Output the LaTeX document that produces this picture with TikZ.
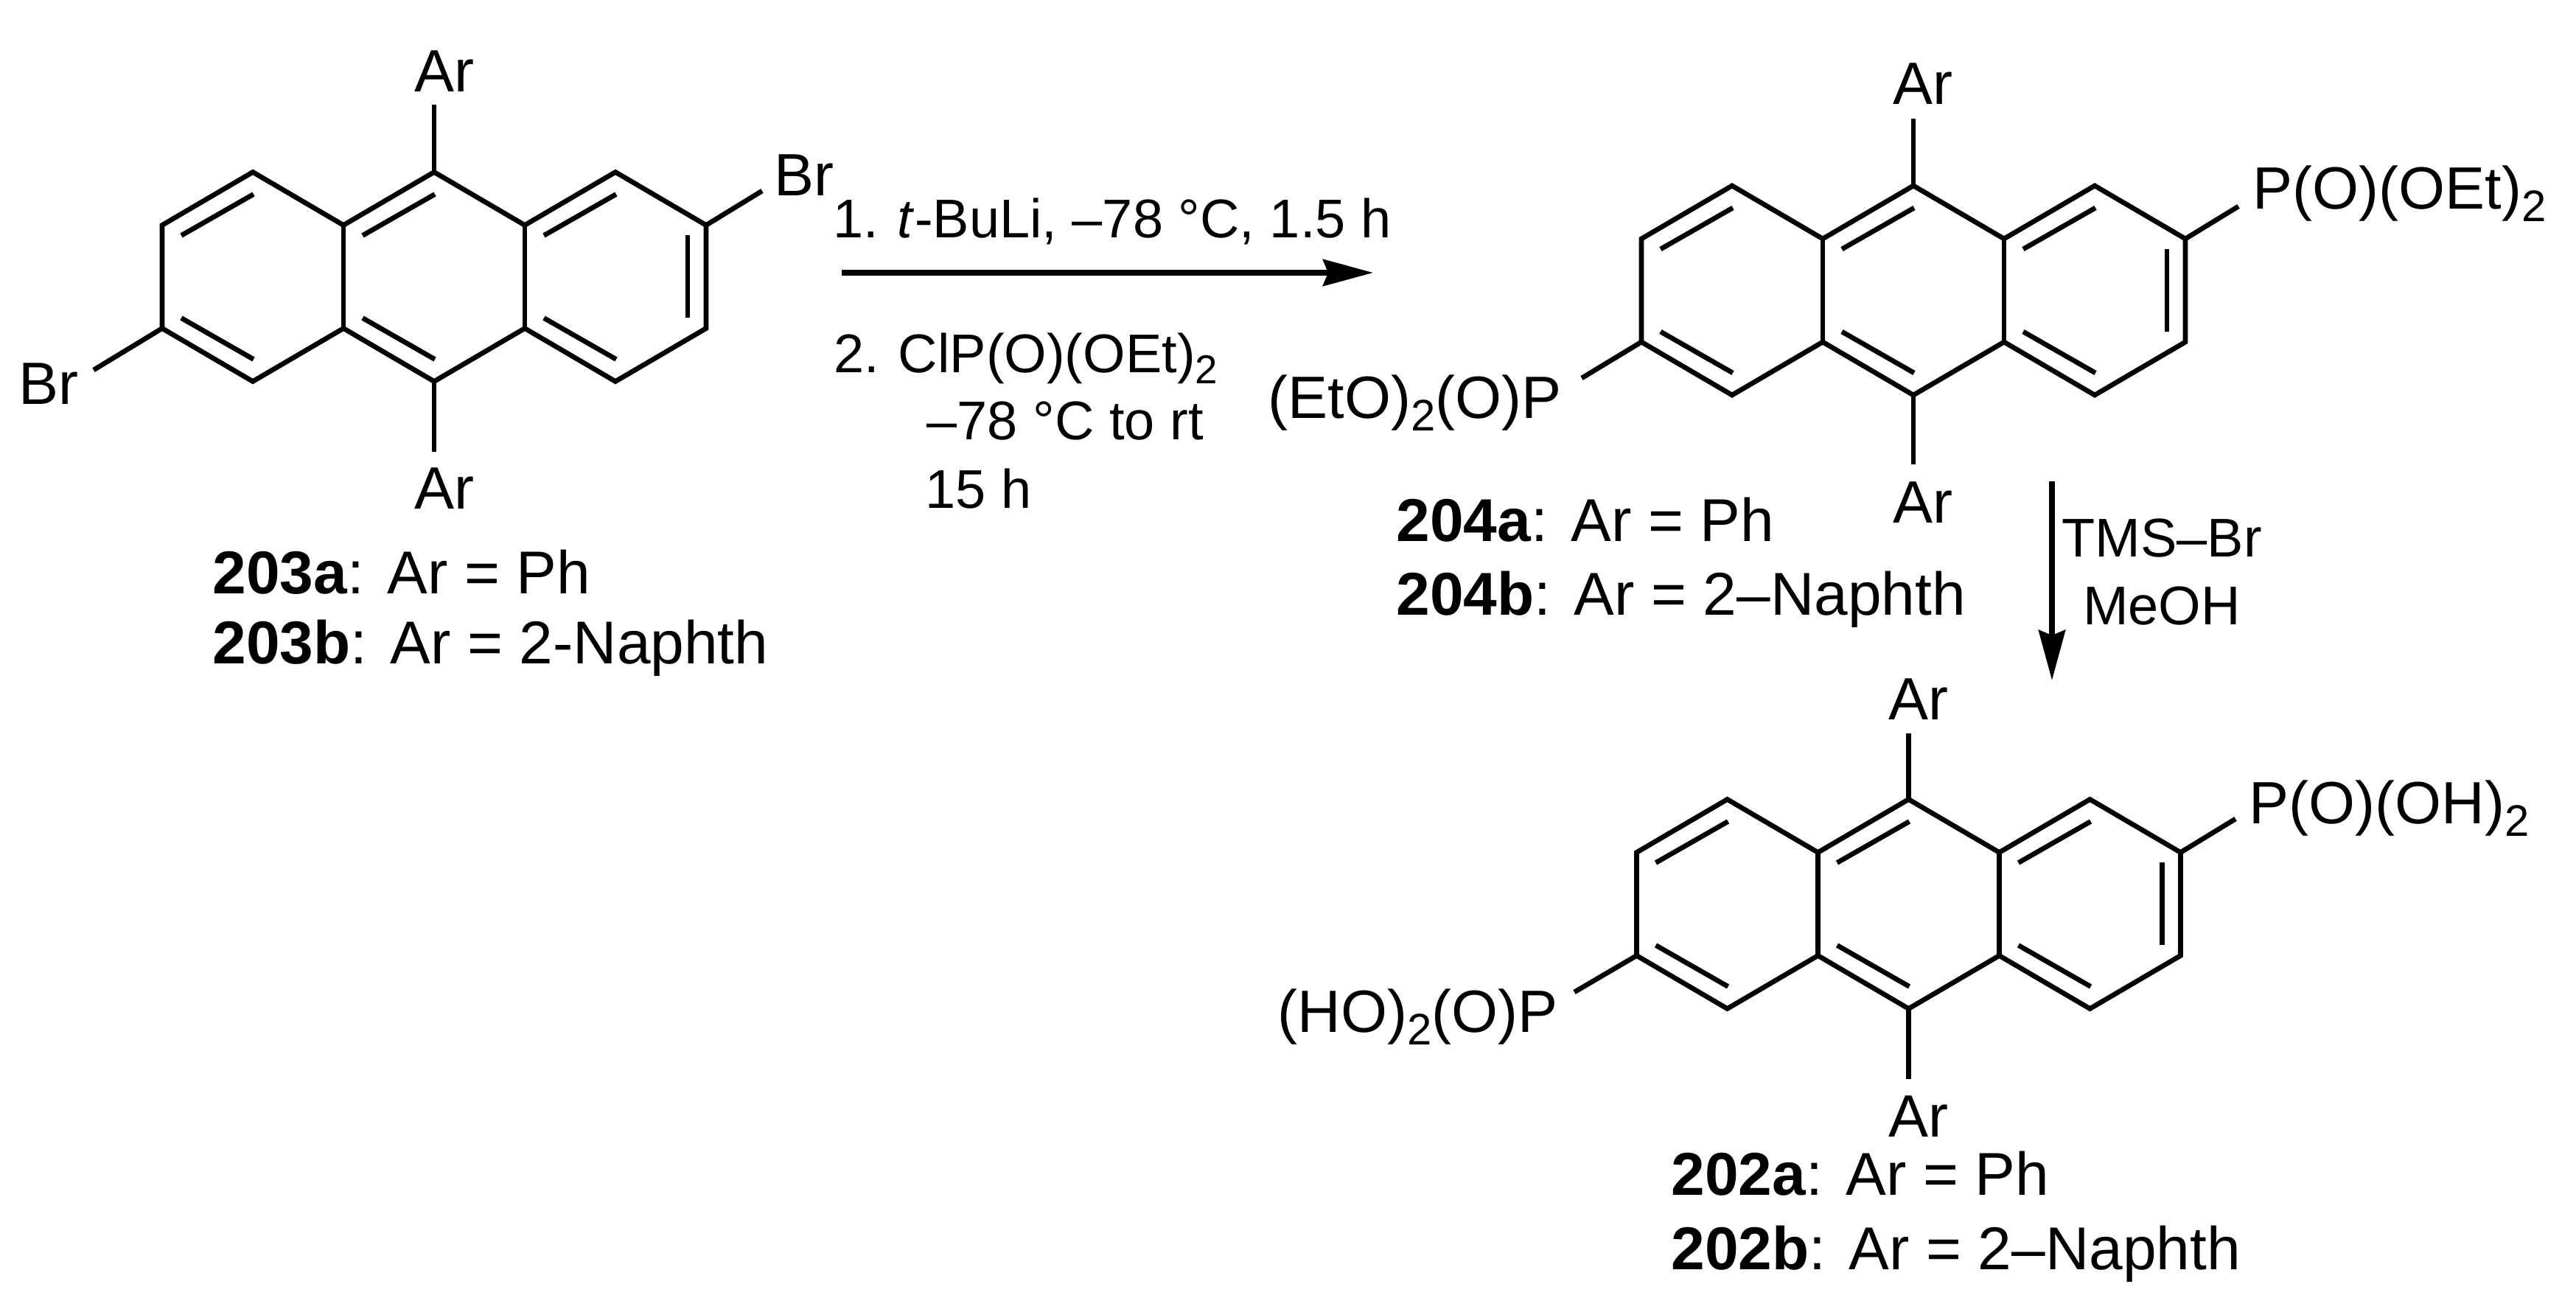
\documentclass[tikz,border=0pt]{standalone}
\usepackage{fontspec}
\setmainfont{Liberation Sans}
\frenchspacing
\usetikzlibrary{arrows.meta}
\newcommand{\subtwo}{\raisebox{-.2em}{\scalebox{.74}{2}}}
\newcommand{\cmpd}[1]{\textbf{#1}:\kern.08cm\ }
\tikzset{
  bond/.style={line width=1.9pt, line join=miter},
  atomlbl/.style={font=\fontsize{23.05}{26}\selectfont, inner sep=0pt, anchor=base west},
  condlbl/.style={font=\fontsize{21.05}{24}\selectfont, inner sep=0pt, anchor=base west},
  cmpdlbl/.style={font=\fontsize{23.35}{26}\selectfont, inner sep=0pt, anchor=base west},
  rxnarrow/.style={line width=2.1pt, -{Stealth[length=.68cm,width=.36cm,inset=.07cm]}}
}
\begin{document}
\begin{tikzpicture}
\useasboundingbox (0,0) rectangle (34.95,17.61);

\foreach \m/\cx/\cy in {A/5.89/13.855, B/25.96/13.67, C/25.895/5.345} {
  \begin{scope}[shift={(\cx,\cy)}]
    \coordinate (\m-t1) at (-2.46,1.42);
    \coordinate (\m-t2) at (0,1.42);
    \coordinate (\m-t3) at (2.46,1.42);
    \coordinate (\m-u1) at (-3.69,.7);
    \coordinate (\m-u2) at (-1.23,.7);
    \coordinate (\m-u3) at (1.23,.7);
    \coordinate (\m-u4) at (3.69,.7);
    \coordinate (\m-l1) at (-3.69,-.7);
    \coordinate (\m-l2) at (-1.23,-.7);
    \coordinate (\m-l3) at (1.23,-.7);
    \coordinate (\m-l4) at (3.69,-.7);
    \coordinate (\m-b1) at (-2.46,-1.42);
    \coordinate (\m-b2) at (0,-1.42);
    \coordinate (\m-b3) at (2.46,-1.42);

    \draw[bond] (\m-u1) -- (\m-t1) -- (\m-u2) -- (\m-t2) -- (\m-u3) -- (\m-t3) -- (\m-u4) -- (\m-l4)
      -- (\m-b3) -- (\m-l3) -- (\m-b2) -- (\m-l2) -- (\m-b1) -- (\m-l1) -- cycle;
    \draw[bond] (\m-u2) -- (\m-l2);
    \draw[bond] (\m-u3) -- (\m-l3);

    \draw[bond] (-3.43,.56) -- (-2.45,1.12);
    \draw[bond] (-.97,.56) -- (.01,1.12);
    \draw[bond] (1.49,.56) -- (2.47,1.12);
    \draw[bond] (3.44,.56) -- (3.44,-.56);
    \draw[bond] (-3.43,-.56) -- (-2.45,-1.12);
    \draw[bond] (-.97,-.56) -- (.01,-1.12);
    \draw[bond] (1.49,-.56) -- (2.47,-1.12);
  \end{scope}
}

\node[atomlbl] (Aar1) at (5.62,16.36) {Ar};
\node[atomlbl] (Aar2) at (5.62,10.70) {Ar};
\node[atomlbl] (Abr1) at (10.50,14.95) {Br};
\node[atomlbl] (Abr2) at (.25,12.12) {Br};
\coordinate (Aend1) at (5.89,16.19);
\coordinate (Aend2) at (5.89,11.48);
\coordinate (Aend3) at (10.34,15.02);
\coordinate (Aend4) at (1.27,12.59);
\draw[bond] (A-t2) -- (Aend1);
\draw[bond] (A-b2) -- (Aend2);
\draw[bond] (A-u4) -- (Aend3);
\draw[bond] (A-l1) -- (Aend4);
\node[cmpdlbl] (name203a) at (2.88,9.55) {\cmpd{203a}Ar = Ph};
\node[cmpdlbl] (name203b) at (2.88,8.60) {\cmpd{203b}Ar = 2-Naphth};

\node[atomlbl] (Bar1) at (25.68,16.19) {Ar};
\node[atomlbl] (Bar2) at (25.68,10.51) {Ar};
\node[atomlbl] (Bp1) at (30.56,14.77) {P(O)(OEt)\subtwo};
\node[atomlbl] (Bp2) at (17.20,11.93) {(EtO)\subtwo(O)P};
\coordinate (Bend1) at (25.96,16.00);
\coordinate (Bend2) at (25.96,11.31);
\coordinate (Bend3) at (30.37,14.81);
\coordinate (Bend4) at (21.46,12.48);
\draw[bond] (B-t2) -- (Bend1);
\draw[bond] (B-b2) -- (Bend2);
\draw[bond] (B-u4) -- (Bend3);
\draw[bond] (B-l1) -- (Bend4);
\node[cmpdlbl] (name204a) at (18.94,10.26) {\cmpd{204a}Ar = Ph};
\node[cmpdlbl] (name204b) at (18.94,9.26) {\cmpd{204b}Ar = 2--Naphth};

\node[atomlbl] (Car1) at (25.62,7.84) {Ar};
\node[atomlbl] (Car2) at (25.62,2.18) {Ar};
\node[atomlbl] (Cp1) at (30.51,6.43) {P(O)(OH)\subtwo};
\node[atomlbl] (Cp2) at (17.33,3.60) {(HO)\subtwo(O)P};
\coordinate (Cend1) at (25.895,7.66);
\coordinate (Cend2) at (25.895,2.97);
\coordinate (Cend3) at (30.33,6.50);
\coordinate (Cend4) at (21.36,4.15);
\draw[bond] (C-t2) -- (Cend1);
\draw[bond] (C-b2) -- (Cend2);
\draw[bond] (C-u4) -- (Cend3);
\draw[bond] (C-l1) -- (Cend4);
\node[cmpdlbl] (name202a) at (22.67,1.39) {\cmpd{202a}Ar = Ph};
\node[cmpdlbl] (name202b) at (22.67,.38) {\cmpd{202b}Ar = 2--Naphth};

\coordinate (arrow1s) at (11.42,13.91);
\coordinate (arrow1e) at (18.63,13.91);
\draw[rxnarrow] (arrow1s) -- (arrow1e);
\node[condlbl] (step1) at (11.30,14.38) {1.\kern.05cm{} \textit{t}-BuLi, --78 °C, 1.5 h};
\node[condlbl] (step2) at (11.31,12.55) {2.\kern.05cm{} ClP(O)(OEt)\subtwo};
\node[condlbl] (step2b) at (12.57,11.64) {--78 °C to rt};
\node[condlbl] (step2c) at (12.55,10.71) {15 h};

\coordinate (arrow2s) at (27.84,11.08);
\coordinate (arrow2e) at (27.84,8.38);
\draw[rxnarrow] (arrow2s) -- (arrow2e);
\node[condlbl, anchor=base] (tmsbr) at (29.33,10.05) {TMS--Br};
\node[condlbl, anchor=base] (meoh) at (29.33,9.13) {MeOH};
\end{tikzpicture}
\end{document}
